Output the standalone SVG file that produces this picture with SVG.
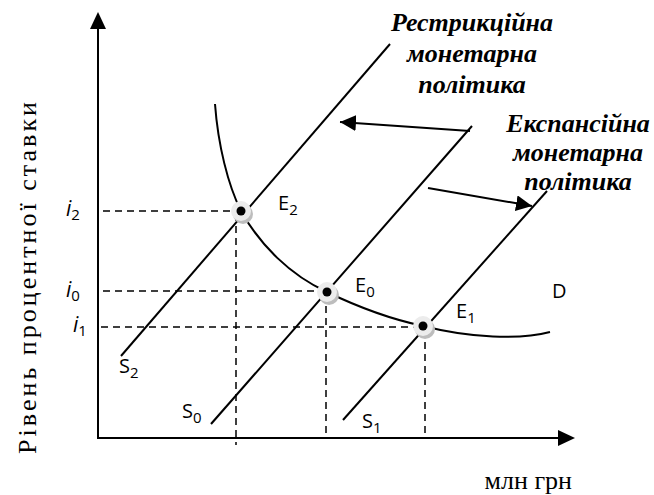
<svg xmlns="http://www.w3.org/2000/svg" width="654" height="495" viewBox="0 0 654 495">
<style>
.ax{stroke:#000;stroke-width:2;fill:none}
.ln{stroke:#000;stroke-width:2;fill:none}
.ds{stroke:#000;stroke-width:1.5;stroke-dasharray:7,5;fill:none}
.lbl{font-family:"Open Sans","Liberation Sans",sans-serif;font-size:20px;fill:#000}
.it{font-family:"Open Sans","Liberation Sans",sans-serif;font-size:21px;font-style:italic;fill:#000}
.pol{font-size:26px;font-weight:bold;font-style:italic;fill:#000;text-anchor:middle}
.tms{font-size:26px;fill:#000}
.halo{fill:#ececec}
.sh{fill:#bdbdbd}
</style>
<defs>
<marker id="ah2" viewBox="0 0 16 16" refX="16" refY="8" markerWidth="16" markerHeight="16" markerUnits="userSpaceOnUse" orient="auto">
<path d="M0,0 L16,8 L0,16 z" fill="#000"/>
</marker>
</defs>
<g id="axes">
<line class="ax" x1="98" y1="438" x2="98" y2="26"/>
<polygon points="98,12 90,29 106,29" fill="#000"/>
<line class="ax" x1="97" y1="438" x2="560" y2="438"/>
<polygon points="575,438 558,430 558,446" fill="#000"/>
</g>
<g id="dashes">
<line class="ds" x1="103" y1="211" x2="240" y2="211"/>
<line class="ds" x1="236" y1="214" x2="236" y2="445"/>
<line class="ds" x1="103" y1="291" x2="326" y2="291"/>
<line class="ds" x1="326" y1="294" x2="326" y2="434"/>
<line class="ds" x1="101" y1="327" x2="423" y2="327"/>
<line class="ds" x1="425" y1="330" x2="425" y2="434"/>
</g>
<g id="curve-D">
<path class="ln" d="M215,104 C218,145 228,185 241,211 C260,245 290,275 327,292 C360,308 395,320 423,326 C470,338 520,340 550,332"/>
</g>
<g id="supply">
<line id="S2" class="ln" x1="121" y1="356" x2="390" y2="44"/>
<line id="S0" class="ln" x1="211" y1="424" x2="472" y2="126"/>
<line id="S1" class="ln" x1="343" y1="420" x2="547" y2="191"/>
</g>
<g id="connectors">
<line class="ln" x1="470" y1="131" x2="340" y2="122" marker-end="url(#ah2)"/>
<line class="ln" x1="428" y1="188" x2="532" y2="206" marker-end="url(#ah2)"/>
</g>
<g id="E2">
<circle class="sh" cx="243" cy="214" r="10"/>
<circle class="halo" cx="241" cy="211" r="10"/>
<circle cx="241" cy="211" r="4.5" fill="#000"/>
<text class="lbl" x="278" y="210">E<tspan font-size="15" dy="5">2</tspan></text>
</g>
<g id="E0">
<circle class="sh" cx="329" cy="295" r="10"/>
<circle class="halo" cx="327" cy="292" r="10"/>
<circle cx="327" cy="292" r="4.5" fill="#000"/>
<text class="lbl" x="355" y="292">E<tspan font-size="15" dy="5">0</tspan></text>
</g>
<g id="E1">
<circle class="sh" cx="425" cy="329" r="10"/>
<circle class="halo" cx="423" cy="326" r="10"/>
<circle cx="423" cy="326" r="4.5" fill="#000"/>
<text class="lbl" x="456" y="318">E<tspan font-size="15" dy="5">1</tspan></text>
</g>
<g id="labels">
<text class="lbl" x="552" y="298">D</text>
<text class="lbl" x="119" y="373">S<tspan font-size="15" dy="5">2</tspan></text>
<text class="lbl" x="182" y="418">S<tspan font-size="15" dy="5">0</tspan></text>
<text class="lbl" x="362" y="428">S<tspan font-size="15" dy="5">1</tspan></text>
<text class="it" x="66" y="216">i<tspan font-size="15" font-style="normal" dy="4">2</tspan></text>
<text class="it" x="66" y="297">i<tspan font-size="15" font-style="normal" dy="4">0</tspan></text>
<text class="it" x="73" y="332">i<tspan font-size="15" font-style="normal" dy="4">1</tspan></text>
<g font-family="Liberation Serif, Tinos, Times New Roman, Noto Serif, DejaVu Serif, serif">
<text class="tms" transform="translate(36,278) rotate(-90)" text-anchor="middle" textLength="352" lengthAdjust="spacing">Рівень процентної ставки</text>
<text class="tms" x="572" y="489" font-size="25" text-anchor="end">млн грн</text>
<text class="pol" x="472" y="31">Рестрикційна</text>
<text class="pol" x="472" y="62">монетарна</text>
<text class="pol" x="472" y="93">політика</text>
<text class="pol" x="578" y="132">Експансійна</text>
<text class="pol" x="578" y="161">монетарна</text>
<text class="pol" x="578" y="190">політика</text>
</g>
</g>
</svg>
